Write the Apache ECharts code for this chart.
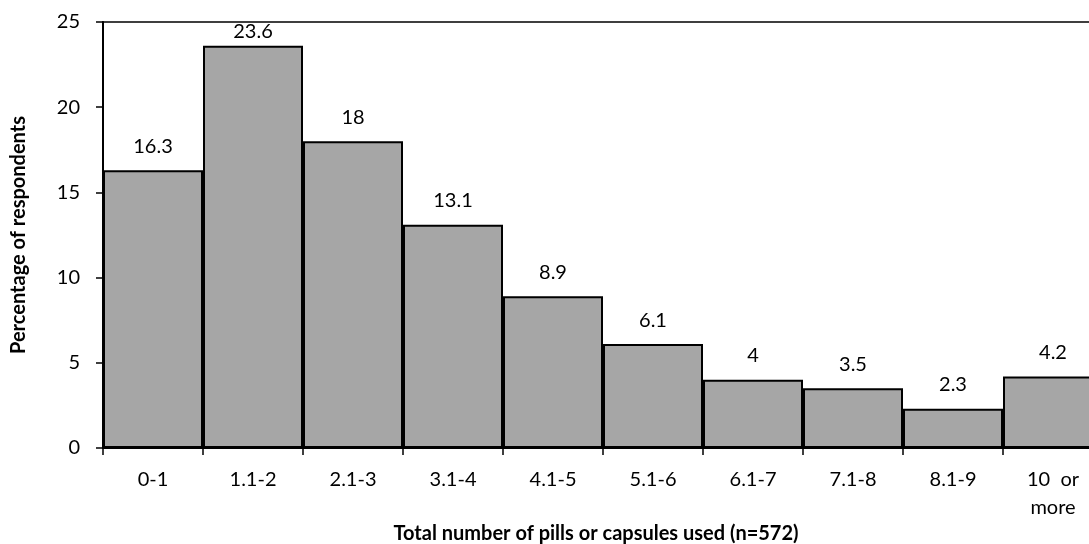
<!DOCTYPE html>
<html>
<head>
<meta charset="utf-8">
<script src="https://cdn.jsdelivr.net/npm/echarts@6/dist/echarts.min.js"></script>
<style>
html,body{margin:0;padding:0;background:#fff;}
#chart{width:1089px;height:544px;}
</style>
</head>
<body>
<div id="chart"></div>
<script>
const categories = ['0-1', '1.1-2', '2.1-3', '3.1-4', '4.1-5', '5.1-6', '6.1-7', '7.1-8', '8.1-9', '10  or\nmore'];
const percentages = [16.3, 23.6, 18, 13.1, 8.9, 6.1, 4, 3.5, 2.3, 4.2];
const yTicks = [0, 5, 10, 15, 20, 25];

const FONT = 'Lato, "Open Sans", sans-serif';
const chart = echarts.init(document.getElementById('chart'));

const seriesData = percentages.map((v, i) => {
  const item = { value: v };
  if (i === 1) item.label = { distance: 4 };
  return item;
});

chart.setOption({
  animation: false,
  backgroundColor: '#fff',
  grid: {
    left: 103, width: 1000, top: 22, bottom: 96,
    containLabel: false, outerBoundsMode: 'none',
    show: true, borderColor: '#000', borderWidth: 1.5, backgroundColor: 'transparent'
  },
  xAxis: {
    type: 'category',
    data: categories,
    boundaryGap: true,
    name: 'Total number of pills or capsules used (n=572)',
    nameLocation: 'middle',
    nameGap: 76,
    nameMoveOverlap: false,
    nameTextStyle: { fontFamily: FONT, fontSize: 20, fontWeight: 'bold', color: '#000', padding: [0, 14, 0, 0] },
    axisLine: { show: true, lineStyle: { color: '#000', width: 2 } },
    axisTick: { show: true, alignWithLabel: false, length: 7, lineStyle: { color: '#000', width: 1.5 } },
    axisLabel: { fontFamily: FONT, fontSize: 20, color: '#000', margin: 18, interval: 0, lineHeight: 28 },
    splitLine: { show: false }
  },
  yAxis: {
    type: 'value',
    min: yTicks[0],
    max: yTicks[yTicks.length - 1],
    interval: 5,
    name: 'Percentage of respondents',
    nameLocation: 'middle',
    nameGap: 74,
    nameMoveOverlap: false,
    nameTextStyle: { fontFamily: FONT, fontSize: 20, fontWeight: 'bold', color: '#000' },
    axisLine: { show: true, lineStyle: { color: '#000', width: 2 } },
    axisTick: { show: true, inside: false, length: 7, lineStyle: { color: '#000', width: 1.5 } },
    axisLabel: { fontFamily: FONT, fontSize: 20, color: '#000', margin: 23 },
    splitLine: { show: false }
  },
  series: [{
    type: 'bar',
    data: seriesData,
    barWidth: '100%',
    barCategoryGap: '0%',
    itemStyle: { color: '#a6a6a6', borderColor: '#000', borderWidth: 2 },
    label: {
      show: true, position: 'top', distance: 14,
      fontFamily: FONT, fontSize: 20, color: '#000'
    }
  }]
});
</script>
</body>
</html>
